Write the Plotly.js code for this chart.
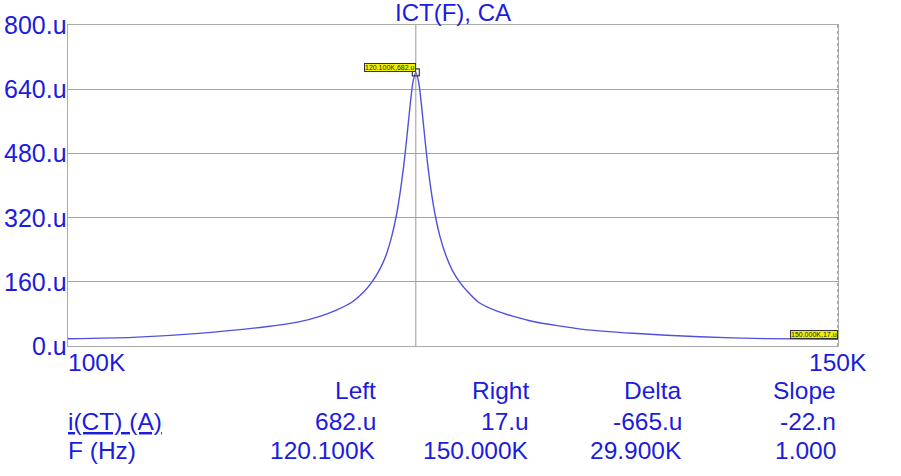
<!DOCTYPE html>
<html>
<head>
<meta charset="utf-8">
<script src="https://cdn.plot.ly/plotly-3.0.1.min.js"></script>
<style>
  html, body { margin: 0; padding: 0; background: #ffffff; }
  #chart { width: 901px; height: 476px; }
</style>
</head>
<body>
<div id="chart"></div>
<script>
// AC sweep of the current through CT (µA) versus frequency (Hz)
const freqHz = [
  100000, 103470, 107130, 110980, 112920, 114180, 115150, 116120,
  116860, 117350, 117840, 118220, 118590, 118870, 119150, 119340,
  119530, 119720, 119910, 120100, 120290, 120480, 120670, 120860,
  121050, 121340, 121630, 121970, 122440, 122930, 123430, 124130,
  125270, 126320, 127750, 131160, 134650, 139460, 144420, 150000
];
const ictMicro = [
  18, 21.5, 31.5, 48, 60, 74, 89, 109,
  135, 159, 191, 225, 274, 324, 393, 450,
  519, 592, 656, 682, 656, 592, 519, 450,
  393, 324, 274, 231, 188, 158, 135, 109,
  88, 75, 61, 41.5, 31.6, 23, 18.3, 17
];

// Y axis ticks (µA)
const yTickVals = [0, 160, 320, 480, 640, 800];
const yTickText = ["0.u", "160.u", "320.u", "480.u", "640.u", "800.u"];

// X axis end labels
const xTickVals = [100000, 150000];
const xTickText = ["100K", "150K"];

// Cursors: left and right
const cursorF = [120100, 150000];
const cursorI = [682, 17];

// Cursor readout table
const tableHeaders = ["Left", "Right", "Delta", "Slope"];
const rowCurrentLabel = "i(CT) (A)";
const rowCurrent = ["682.u", "17.u", "-665.u", "-22.n"];
const rowFreqLabel = "F (Hz)";
const rowFreq = ["120.100K", "150.000K", "29.900K", "1.000"];

const BLUE = "#1c1cdc";
const FONT = "Liberation Sans, Arial, sans-serif";
const BIG = 24.5;

// plot box in pixels
const L = 68, R = 838, T = 25, B = 346;
const W = 901, H = 476;
const px2paperX = p => (p - L) / (R - L);
const px2paperY = p => (B - p) / (B - T);

const fmtK = f => (f / 1000).toFixed(3) + "K";
const fmtU = v => Math.round(v) + ".u";

const traces = [
  // left cursor line
  {
    x: [cursorF[0], cursorF[0]], y: [0, 800],
    mode: "lines", line: { color: "#9a9a9a", width: 1 },
    hoverinfo: "skip", showlegend: false
  },
  // right cursor line (dotted, sits on the frame)
  {
    x: [cursorF[1], cursorF[1]], y: [0, 800],
    mode: "lines", line: { color: "#555555", width: 1, dash: "dot" },
    cliponaxis: false, hoverinfo: "skip", showlegend: false
  },
  // current curve
  {
    x: freqHz, y: ictMicro,
    mode: "lines", line: { color: "#5050e0", width: 1.4, shape: "spline", smoothing: 0.6 },
    hoverinfo: "x+y", showlegend: false
  },
  // left cursor marker
  {
    x: [cursorF[0]], y: [cursorI[0]],
    mode: "markers",
    marker: { symbol: "square-open", size: 7, color: "#3a3a3a", line: { width: 1.2, color: "#3a3a3a" } },
    cliponaxis: false, hoverinfo: "skip", showlegend: false
  }
];

const annotations = [];

// title
annotations.push({
  xref: "paper", yref: "paper", x: 0.5, y: px2paperY(12),
  xanchor: "center", yanchor: "middle", showarrow: false,
  text: "ICT(F), CA", font: { family: FONT, size: 24, color: BLUE }
});

// y axis labels, right-aligned against the frame
yTickVals.forEach((v, i) => {
  annotations.push({
    xref: "paper", yref: "y", x: px2paperX(69), y: v,
    xanchor: "right", yanchor: "middle", showarrow: false,
    text: yTickText[i], font: { family: FONT, size: 25, color: BLUE }
  });
});

// x axis end labels
annotations.push({
  xref: "x", yref: "paper", x: Math.log10(xTickVals[0]), xshift: -2, y: px2paperY(362),
  xanchor: "left", yanchor: "middle", showarrow: false,
  text: xTickText[0], font: { family: FONT, size: BIG, color: BLUE }
});
annotations.push({
  xref: "x", yref: "paper", x: Math.log10(xTickVals[1]), y: px2paperY(362),
  xanchor: "center", yanchor: "middle", showarrow: false,
  text: xTickText[1], font: { family: FONT, size: BIG, color: BLUE }
});

// cursor value tags
cursorF.forEach((f, i) => {
  annotations.push({
    xref: "x", yref: "y", x: Math.log10(f), y: cursorI[i],
    xanchor: "right", yanchor: "bottom", showarrow: false,
    text: fmtK(f) + "," + fmtU(cursorI[i]),
    font: { family: FONT, size: 7, color: "#222222" },
    bgcolor: "#f0f000", bordercolor: "#333333", borderwidth: 1, borderpad: 0
  });
});

// readout table
const colRight = [378, 531, 684, 838];
const rowY = [391, 421, 450];
const tableFont = { family: FONT, size: BIG, color: BLUE };
function cell(text, px, py, anchor) {
  annotations.push({
    xref: "paper", yref: "paper", x: px2paperX(px), y: px2paperY(py),
    xanchor: anchor, yanchor: "middle", showarrow: false,
    text: text, font: tableFont
  });
}
tableHeaders.forEach((h, i) => cell(h, colRight[i], rowY[0], "right"));
cell("<u>" + rowCurrentLabel + "</u>", 66, rowY[1], "left");
rowCurrent.forEach((v, i) => cell(v, colRight[i], rowY[1], "right"));
cell(rowFreqLabel, 66, rowY[2], "left");
rowFreq.forEach((v, i) => cell(v, colRight[i], rowY[2], "right"));

const layout = {
  width: W, height: H,
  margin: { l: L, r: W - R, t: T, b: H - B, pad: 0 },
  paper_bgcolor: "#ffffff", plot_bgcolor: "#ffffff",
  showlegend: false,
  xaxis: {
    type: "log",
    range: [Math.log10(xTickVals[0]), Math.log10(xTickVals[1])],
    showgrid: false, zeroline: false, showticklabels: false, ticks: "",
    showline: true, mirror: true, linecolor: "#ababab", linewidth: 1,
    layer: "below traces", fixedrange: true
  },
  yaxis: {
    range: [0, 800],
    tickmode: "array", tickvals: yTickVals, ticktext: yTickText,
    showticklabels: false, ticks: "",
    showgrid: true, gridcolor: "#a4a4a4", gridwidth: 1,
    zeroline: false,
    showline: true, mirror: true, linecolor: "#ababab", linewidth: 1,
    layer: "below traces", fixedrange: true
  },
  annotations: annotations
};

Plotly.newPlot("chart", traces, layout, { displayModeBar: false, staticPlot: true });
</script>
</body>
</html>
